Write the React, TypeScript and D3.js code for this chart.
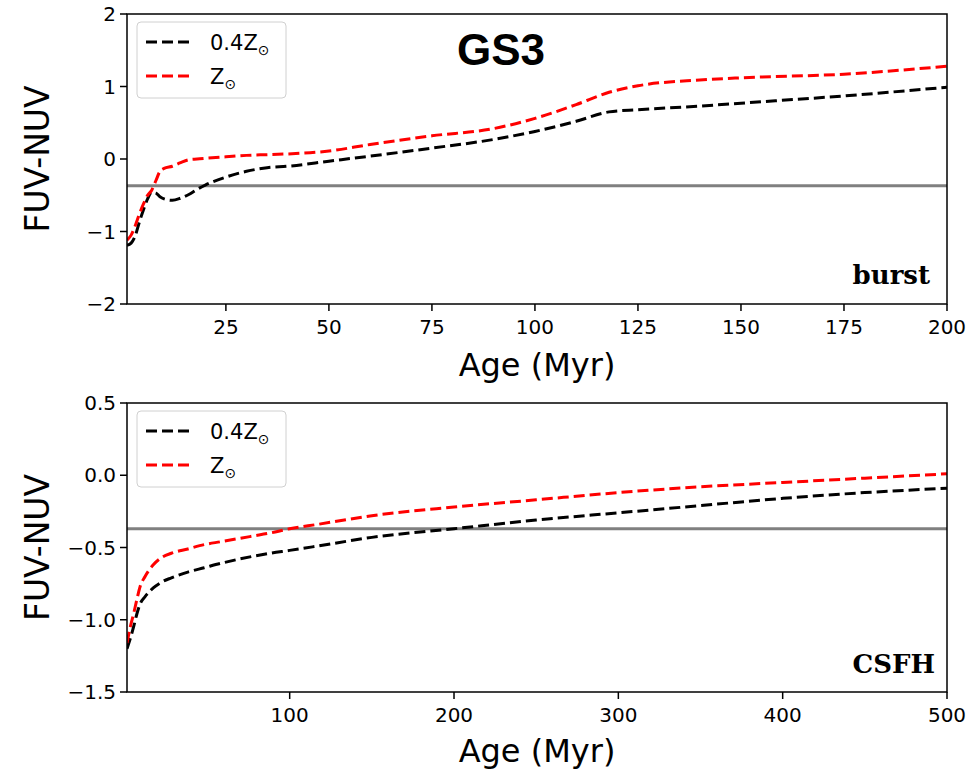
import React from 'react';
import * as d3 from 'd3';

// burst model (top panel)
const burstAges = [1, 2, 3, 4, 5, 6, 7, 8, 9, 10, 12, 14, 16, 18, 20, 25, 30, 35, 40, 50, 60, 75, 90, 100, 110, 118, 125, 140, 150, 175, 200];
const burstLowZ = [-1.19, -1.16, -1.06, -0.87, -0.7, -0.55, -0.46, -0.47, -0.52, -0.55, -0.57, -0.54, -0.49, -0.42, -0.36, -0.25, -0.17, -0.12, -0.1, -0.03, 0.04, 0.15, 0.27, 0.38, 0.52, 0.65, 0.68, 0.73, 0.77, 0.87, 0.99];
const burstSolarZ = [-1.12, -1.05, -0.92, -0.76, -0.62, -0.5, -0.43, -0.3, -0.17, -0.13, -0.1, -0.05, -0.01, 0.0, 0.01, 0.03, 0.05, 0.06, 0.07, 0.11, 0.2, 0.32, 0.42, 0.56, 0.75, 0.92, 1.01, 1.09, 1.12, 1.17, 1.28];

// constant SFH model (bottom panel)
const csfhAges = [1, 3, 5, 7, 9, 12, 17, 22, 28, 38, 48, 58, 78, 88, 100, 117, 150, 200, 250, 300, 350, 400, 450, 500];
const csfhLowZ = [-1.2, -1.13, -1.05, -0.96, -0.89, -0.84, -0.78, -0.74, -0.71, -0.67, -0.64, -0.61, -0.56, -0.54, -0.52, -0.49, -0.43, -0.37, -0.31, -0.26, -0.21, -0.16, -0.12, -0.09];
const csfhSolarZ = [-1.16, -1.05, -0.96, -0.86, -0.77, -0.7, -0.62, -0.57, -0.54, -0.51, -0.48, -0.46, -0.42, -0.4, -0.37, -0.34, -0.28, -0.22, -0.17, -0.12, -0.08, -0.05, -0.02, 0.01];

const observedColor = -0.37;

const burstXTicks = [25, 50, 75, 100, 125, 150, 175, 200];
const burstYTicks = [-2, -1, 0, 1, 2];
const csfhXTicks = [100, 200, 300, 400, 500];
const csfhYTicks = [-1.5, -1.0, -0.5, 0.0, 0.5];

const W = 971;
const H = 776;
const LEFT = 127;
const RIGHT = 947;
const SANS = 'DejaVu Sans, sans-serif';

const minus = (s: string) => s.replace('-', '\u2212');

type PanelProps = {
  top: number;
  bottom: number;
  xDomain: [number, number];
  yDomain: [number, number];
  xTicks: number[];
  yTicks: number[];
  yFmt: (v: number) => string;
  ages: number[];
  low: number[];
  solar: number[];
  tag: string;
  tagY: number;
  tagX: number;
  xLabelY: number;
};

function Legend({ x, y }: { x: number; y: number }) {
  const rows = [
    { color: '#000', pre: '0.4Z' },
    { color: '#f00', pre: 'Z' },
  ];
  return (
    <g transform={`translate(${x},${y})`}>
      <rect x={0} y={0} width={149} height={76} rx={4} fill="#fff" fillOpacity={0.8} stroke="#d0d0d0" strokeWidth={1} />
      {rows.map((r, i) => (
        <g key={i} transform={`translate(0,${20 + i * 34})`}>
          <line x1={9} x2={55} y1={0} y2={0} stroke={r.color} strokeWidth={3} strokeDasharray="11,5" />
          <text x={73} y={8} fontFamily={SANS} fontSize={21} fill="#000">
            {r.pre}
            <tspan fontSize={14} dy={5}>{'\u2299'}</tspan>
          </text>
        </g>
      ))}
    </g>
  );
}

function Panel(p: PanelProps) {
  const x = d3.scaleLinear().domain(p.xDomain).range([LEFT, RIGHT]);
  const y = d3.scaleLinear().domain(p.yDomain).range([p.bottom, p.top]);
  const line = d3.line<number>()
    .x((_, i) => x(p.ages[i]))
    .y((d) => y(d))
    .curve(d3.curveMonotoneX);
  const clipId = `clip-${p.tag}`;
  return (
    <g>
      <defs>
        <clipPath id={clipId}>
          <rect x={LEFT} y={p.top} width={RIGHT - LEFT} height={p.bottom - p.top} />
        </clipPath>
      </defs>
      <g clipPath={`url(#${clipId})`}>
        <line x1={LEFT} x2={RIGHT} y1={y(observedColor)} y2={y(observedColor)} stroke="#808080" strokeWidth={3} />
        <path d={line(p.low) || ''} fill="none" stroke="#000" strokeWidth={3} strokeDasharray="11,5" />
        <path d={line(p.solar) || ''} fill="none" stroke="#f00" strokeWidth={3} strokeDasharray="11,5" />
      </g>
      <rect x={LEFT} y={p.top} width={RIGHT - LEFT} height={p.bottom - p.top} fill="none" stroke="#000" strokeWidth={1.5} />
      {p.xTicks.map((t) => (
        <g key={t}>
          <line x1={x(t)} x2={x(t)} y1={p.bottom} y2={p.bottom + 7} stroke="#000" strokeWidth={1.5} />
          <text x={x(t)} y={p.bottom + 30} textAnchor="middle" fontFamily={SANS} fontSize={20} fill="#000">{t}</text>
        </g>
      ))}
      {p.yTicks.map((t) => (
        <g key={t}>
          <line x1={LEFT - 7} x2={LEFT} y1={y(t)} y2={y(t)} stroke="#000" strokeWidth={1.5} />
          <text x={LEFT - 11} y={y(t) + 7} textAnchor="end" fontFamily={SANS} fontSize={20} fill="#000">{p.yFmt(t)}</text>
        </g>
      ))}
      <text x={(LEFT + RIGHT) / 2} y={p.xLabelY} textAnchor="middle" fontFamily={SANS} fontSize={32} fill="#000">Age (Myr)</text>
      <text transform={`translate(49,${(p.top + p.bottom) / 2}) rotate(-90)`} textAnchor="middle" fontFamily={SANS} fontSize={33} fill="#000">FUV-NUV</text>
      <text x={p.tagX} y={p.tagY} textAnchor="end" fontFamily="DejaVu Serif, serif" fontWeight="bold" fontSize={26} fill="#000">{p.tag}</text>
      <Legend x={137} y={p.top + 8} />
    </g>
  );
}

export default function App() {
  return (
    <svg width={W} height={H} style={{ position: 'absolute', left: 0, top: 0, background: '#fff' }}>
      <rect width={W} height={H} fill="#fff" />
      <Panel
        top={14}
        bottom={304}
        xDomain={[1, 200]}
        yDomain={[-2, 2]}
        xTicks={burstXTicks}
        yTicks={burstYTicks}
        yFmt={(v) => minus(d3.format('d')(v))}
        ages={burstAges}
        low={burstLowZ}
        solar={burstSolarZ}
        tag="burst"
        tagX={930}
        tagY={284}
        xLabelY={376}
      />
      <Panel
        top={403}
        bottom={692}
        xDomain={[1, 500]}
        yDomain={[-1.5, 0.5]}
        xTicks={csfhXTicks}
        yTicks={csfhYTicks}
        yFmt={(v) => minus(d3.format('.1f')(v))}
        ages={csfhAges}
        low={csfhLowZ}
        solar={csfhSolarZ}
        tag="CSFH"
        tagX={935}
        tagY={673}
        xLabelY={762}
      />
      <text x={501} y={65} textAnchor="middle" fontFamily="Liberation Sans, Arial, sans-serif" fontWeight="bold" fontSize={44} fill="#000">GS3</text>
    </svg>
  );
}
